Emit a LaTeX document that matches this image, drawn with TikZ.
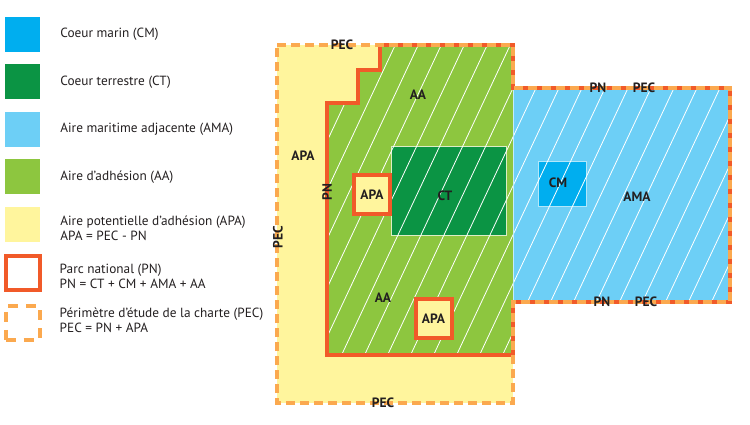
\documentclass[tikz,border=0pt]{standalone}
\usepackage{fontspec}
\setmainfont{PT Sans}
\usetikzlibrary{positioning}
\definecolor{CMblue}{HTML}{00AEEF}
\definecolor{CTgreen}{HTML}{0B9444}
\definecolor{AMAblue}{HTML}{6DCFF6}
\definecolor{AAgreen}{HTML}{8DC63F}
\definecolor{APAyellow}{HTML}{FFF59D}
\definecolor{PNred}{HTML}{F15A29}
\definecolor{PECorange}{HTML}{FBA94F}
\definecolor{LabelInk}{HTML}{231F20}

\begin{document}
\begin{tikzpicture}[x=1pt, y=-1pt,
    swatch/.style={rectangle, minimum size=35pt, inner sep=0pt},
    outlined/.style={rectangle, minimum size=34pt, inner sep=0pt, line width=4pt},
    keytext/.style={font=\fontsize{13.3}{15}\selectfont, align=left, inner sep=0pt, text=LabelInk},
    zone/.style={rectangle, inner sep=0pt, draw=white!70!AAgreen, line width=0.8pt},
    apabox/.style={rectangle, fill=APAyellow, draw=PNred, line width=4pt, minimum width=36pt, minimum height=39pt, inner sep=0pt, font=\fontsize{13.5}{15}\selectfont\bfseries, text=LabelInk},
    maplabel/.style={font=\fontsize{13.5}{15}\selectfont\bfseries, text=LabelInk, inner sep=0pt},
    pnline/.style={draw=PNred, line width=4pt},
    pecline/.style={draw=PECorange, line width=4pt, dash pattern=on 9pt off 5pt},
    hatch/.style={white, line width=0.8pt},
]
\useasboundingbox (0,0) rectangle (750,424);

% legend
\node[swatch, fill=CMblue] (keycm) at (22.5,34.5) {};
\node[swatch, fill=CTgreen, below=12pt of keycm] (keyct) {};
\node[swatch, fill=AMAblue, below=12pt of keyct] (keyama) {};
\node[swatch, fill=AAgreen, below=12pt of keyama] (keyaa) {};
\node[swatch, fill=APAyellow, below=12pt of keyaa] (keyapa) {};
\node[outlined, draw=PNred, below=12pt of keyapa] (keypn) {};
\node[outlined, draw=PECorange, dash pattern=on 10pt off 8pt, below=12pt of keypn] (keypec) {};

\node[keytext, right=20pt of keycm] (txtcm) {Coeur marin (CM)};
\node[keytext, right=20pt of keyct] (txtct) {Coeur terrestre (CT)};
\node[keytext, right=20pt of keyama] (txtama) {Aire maritime adjacente (AMA)};
\node[keytext, right=20pt of keyaa] (txtaa) {Aire d’adhésion (AA)};
\node[keytext, right=20pt of keyapa, yshift=-4pt] (txtapa) {Aire potentielle d’adhésion (APA)\\APA = PEC - PN};
\node[keytext, right=18pt of keypn, yshift=-4pt] (txtpn) {Parc national (PN)\\PN = CT + CM + AMA + AA};
\node[keytext, right=18pt of keypec, yshift=3pt] (txtpec) {Périmètre d’étude de la charte (PEC)\\PEC = PN + APA};

% map areas
\fill[APAyellow] (277,45) -- (513,45) -- (513,403) -- (277,403) -- cycle;
\fill[AAgreen] (380,45) -- (513,45) -- (513,355) -- (327,355) -- (327,103)
    -- (358,103) -- (358,70) -- (380,70) -- cycle;
\fill[AMAblue] (513,88) rectangle (730,302);
\node[zone, fill=CTgreen, minimum width=115pt, minimum height=89pt] (ct) at (448.5,190.5) {};
\node[zone, draw=white!70!CMblue, fill=CMblue, minimum width=48pt, minimum height=45pt] (cm) at (562,183.5) {};

% hatching of the national park
\begin{scope}
    \clip (380,45) -- (513,45) -- (513,88) -- (730,88) -- (730,302) -- (513,302)
        -- (513,355) -- (327,355) -- (327,103) -- (358,103) -- (358,70) -- (380,70) -- cycle;
    \foreach \x in {150,173,...,800}
        \draw[hatch] (\x,420) -- ++(188,-400);
\end{scope}
\draw[white!60!AMAblue, line width=0.8pt] (513,88) -- (513,302);

\node[apabox] (apa1) at (372,194.5) {APA};
\node[apabox] (apa2) at (433.5,318.5) {APA};

% borders
\draw[pnline] (380,45) -- (513,45) -- (513,88) -- (730,88) -- (730,302) -- (513,302)
    -- (513,355) -- (327,355) -- (327,103) -- (358,103) -- (358,70) -- (380,70) -- cycle;
\draw[pecline] (277,45) -- (513,45) -- (513,88) -- (730,88) -- (730,302) -- (513,302)
    -- (513,403) -- (277,403) -- cycle;

% labels
\node[maplabel] (pectop) at (342,45) {PEC};
\node[maplabel, rotate=90] (pecleft) at (278,237) {PEC};
\node[maplabel] (pecbottom) at (383,403) {PEC};
\node[maplabel, rotate=90] (pnleft) at (327,192) {PN};
\node[maplabel] (apaout) at (303,156) {APA};
\node[maplabel] (aatop) at (418,95) {AA};
\node[maplabel] (ctlabel) at (445,196) {CT};
\node[maplabel] (aabottom) at (383,298) {AA};
\node[maplabel] (cmlabel) at (558,183) {CM};
\node[maplabel] (amalabel) at (637,197) {AMA};
\node[maplabel] (pnup) at (598,88) {PN};
\node[maplabel] (pecup) at (644,88) {PEC};
\node[maplabel] (pndown) at (602,302) {PN};
\node[maplabel] (pecdown) at (646,302) {PEC};
\end{tikzpicture}
\end{document}
